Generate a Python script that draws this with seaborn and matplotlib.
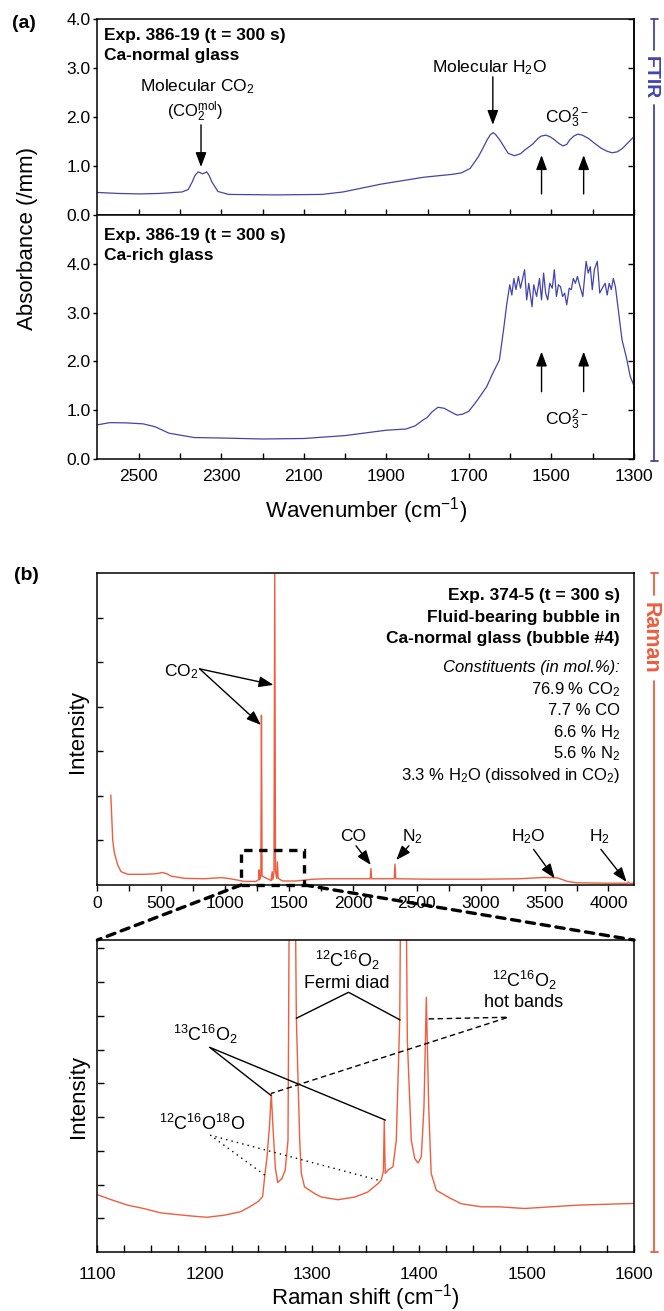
import matplotlib
matplotlib.use('Agg')
import matplotlib.pyplot as plt
import seaborn as sns
import pandas as pd
from matplotlib.lines import Line2D
from matplotlib.patches import Rectangle, ConnectionPatch
from matplotlib.ticker import MultipleLocator

# FTIR, exp. 386-19 (t = 300 s), Ca-normal glass
normal_wn = [2600, 2550, 2497, 2450, 2395, 2380, 2370, 2364, 2356, 2350,
             2346, 2340, 2335, 2329, 2323, 2308, 2282, 2169, 2056, 2005,
             1913, 1810, 1740, 1718, 1697, 1677, 1665, 1656, 1648, 1641,
             1635, 1625, 1605, 1590, 1575, 1564, 1545, 1533, 1525, 1513,
             1502, 1492, 1482, 1472, 1463, 1456, 1446, 1436, 1425, 1410,
             1395, 1379, 1365, 1353, 1340, 1328, 1315, 1300]
normal_abs = [0.46, 0.44, 0.43, 0.44, 0.47, 0.52, 0.68, 0.80, 0.88, 0.86,
              0.84, 0.86, 0.88, 0.80, 0.68, 0.48, 0.42, 0.41, 0.42, 0.47,
              0.63, 0.77, 0.83, 0.86, 0.95, 1.19, 1.38, 1.53, 1.64, 1.68,
              1.64, 1.53, 1.26, 1.21, 1.25, 1.33, 1.45, 1.56, 1.61, 1.63,
              1.59, 1.53, 1.46, 1.41, 1.44, 1.53, 1.61, 1.65, 1.63, 1.56,
              1.46, 1.36, 1.30, 1.27, 1.29, 1.36, 1.47, 1.60]

# FTIR, exp. 386-19 (t = 300 s), Ca-rich glass
rich_wn = [2600, 2570, 2530, 2489, 2460, 2427, 2400, 2366, 2300, 2200,
           2100, 2000, 1900, 1852, 1830, 1811, 1801, 1790, 1775, 1760,
           1745, 1729, 1715, 1700, 1680, 1657, 1642, 1626, 1616, 1608,
           1601, 1596, 1591, 1586, 1580, 1575, 1565, 1560, 1555, 1547,
           1543, 1536, 1529, 1524, 1519, 1514, 1509, 1504, 1498, 1493,
           1488, 1483, 1478, 1473, 1468, 1463, 1457, 1452, 1447, 1442,
           1437, 1432, 1424, 1416, 1411, 1406, 1401, 1396, 1389, 1383,
           1375, 1370, 1365, 1360, 1355, 1350, 1345, 1339, 1329, 1319,
           1309, 1301]
rich_abs = [0.70, 0.745, 0.74, 0.72, 0.66, 0.53, 0.49, 0.44, 0.43, 0.41,
            0.42, 0.48, 0.59, 0.615, 0.68, 0.80, 0.85, 0.96, 1.06, 1.04,
            0.97, 0.90, 0.92, 0.98, 1.20, 1.48, 1.76, 2.03, 2.65, 3.19,
            3.57, 3.36, 3.70, 3.47, 3.74, 3.50, 3.88, 3.26, 3.60, 3.12,
            3.57, 3.33, 3.70, 3.26, 3.81, 3.40, 3.26, 3.60, 3.50, 3.88,
            3.33, 3.57, 3.53, 3.33, 3.40, 3.16, 3.50, 3.47, 3.70, 3.60,
            3.74, 3.57, 3.33, 4.05, 3.81, 3.94, 3.47, 3.88, 4.05, 3.40,
            3.53, 3.60, 3.36, 3.60, 3.47, 3.70, 3.53, 3.12, 2.44, 2.10,
            1.69, 1.52]

# Raman, exp. 374-5, bubble #4 (full range)
raman_shift = [105, 120, 133, 159, 185, 237, 368, 440, 472, 511,
               545, 576, 680, 837, 940, 967, 1019, 1097, 1149, 1240,
               1262, 1266, 1270, 1279, 1284, 1289, 1360, 1368, 1374, 1382,
               1388, 1394, 1403, 1409, 1415, 1450, 1550, 1690, 1800, 2000,
               2135, 2141, 2147, 2323, 2329, 2335, 2600, 3000, 3300, 3500,
               3600, 3680, 3750, 4000, 4150, 4156, 4162, 4200]
raman_int = [2.02, 1.0, 0.72, 0.45, 0.30, 0.24, 0.24, 0.25, 0.26, 0.28,
             0.25, 0.20, 0.15, 0.14, 0.16, 0.165, 0.15, 0.11, 0.08, 0.08,
             0.12, 0.34, 0.12, 0.2, 3.81, 0.2, 0.1, 0.3, 0.12, 0.3,
             6.98, 0.3, 0.15, 0.52, 0.15, 0.09, 0.09, 0.13, 0.14, 0.14,
             0.14, 0.37, 0.14, 0.14, 0.47, 0.14, 0.13, 0.13, 0.14, 0.17,
             0.16, 0.08, 0.05, 0.04, 0.04, 0.07, 0.04, 0.04]

# Raman, zoom on the CO2 region
zoom_shift = [1100, 1112, 1128, 1143, 1159, 1174, 1190, 1202, 1218, 1233,
              1242, 1250, 1254, 1256, 1258, 1260.5, 1262, 1263.6, 1265.8, 1268,
              1272, 1275, 1277.6, 1278.6, 1281.3, 1284, 1285.4, 1288.5, 1290, 1293,
              1302.5, 1308.6, 1324, 1340, 1352, 1361.5, 1364.5, 1366.5, 1367.3, 1368.2,
              1370.8, 1375.4, 1378.5, 1381.7, 1382.3, 1385, 1388, 1388.8, 1392.5, 1395.7,
              1398.7, 1401.8, 1404.3, 1406.5, 1408.7, 1411, 1415.8, 1426.7, 1439, 1457.7,
              1474, 1498, 1548, 1600]
zoom_int = [1.70, 1.56, 1.39, 1.29, 1.16, 1.11, 1.06, 1.03, 1.09, 1.19,
            1.34, 1.50, 1.65, 2.28, 2.80, 3.80, 4.70, 3.70, 2.50, 2.06,
            2.18, 2.43, 3.31, 9.5, 55, 12, 6.9, 3.31, 2.33, 1.93,
            1.73, 1.63, 1.55, 1.63, 1.78, 2.03, 2.13, 2.40, 3.90, 2.33,
            2.43, 2.53, 3.31, 6.90, 9.5, 100, 9.5, 6.27, 3.31, 2.77,
            2.64, 2.82, 4.30, 7.55, 4.30, 2.33, 1.83, 1.63, 1.43, 1.34,
            1.34, 1.29, 1.39, 1.44]

ftir_xticks = [2500, 2400, 2300, 2200, 2100, 2000, 1900, 1800, 1700, 1600, 1500, 1400, 1300]
ftir_xlabels = ['2500', '', '2300', '', '2100', '', '1900', '', '1700', '', '1500', '', '1300']
ftir_yticks = [0, 1, 2, 3, 4]
ftir_ylabels = ['0.0', '1.0', '2.0', '3.0', '4.0']
raman_xticks = [0, 500, 1000, 1500, 2000, 2500, 3000, 3500, 4000]
raman_yticks = [1, 2, 3, 4, 5, 6]
zoom_xticks = [1100, 1200, 1300, 1400, 1500, 1600]
zoom_yticks = [1, 2, 3, 4, 5, 6, 7, 8, 9]
constituents = ['76.9 % CO$_2$', '7.7 % CO', '6.6 % H$_2$', '5.6 % N$_2$',
                '3.3 % H$_2$O (dissolved in CO$_2$)']

FTIR_C = '#4343ad'
RAMAN_C = '#ef5d3e'

sns.set_style('ticks', rc={'axes.edgecolor': 'black', 'text.color': 'black',
                           'xtick.color': 'black', 'ytick.color': 'black',
                           'axes.labelcolor': 'black'})
plt.rcParams['font.family'] = ['Liberation Sans', 'DejaVu Sans']
plt.rcParams['mathtext.fontset'] = 'custom'
plt.rcParams['mathtext.rm'] = 'Liberation Sans'
plt.rcParams['mathtext.it'] = 'Liberation Sans:italic'
plt.rcParams['mathtext.bf'] = 'Liberation Sans:bold'
plt.rcParams['axes.linewidth'] = 1.1
plt.rcParams['xtick.labelsize'] = 12.5
plt.rcParams['ytick.labelsize'] = 12.5

W, H = 664, 1311
fig = plt.figure(figsize=(W / 100, H / 100), dpi=100)


def axes_px(x0, y0, x1, y1):
    return fig.add_axes([x0 / W, 1 - y1 / H, (x1 - x0) / W, (y1 - y0) / H])


def ftext(x, y, s, **kw):
    fig.text(x / W, 1 - y / H, s, **kw)


def arrow(ax, tail, tip):
    ax.annotate('', xy=tip, xytext=tail,
                arrowprops=dict(arrowstyle='-|>,head_length=0.8,head_width=0.3',
                                color='black', lw=1, mutation_scale=11,
                                shrinkA=0, shrinkB=0))


ax_top = axes_px(97.4, 19, 634, 215)
ax_bot = axes_px(97.4, 215, 634, 459)
ax_ram = axes_px(97.4, 573, 634, 885)
ax_zm = axes_px(97.4, 940, 634, 1252)

# ---- FTIR panels ----
for ax, wn, ab, top in [(ax_top, normal_wn, normal_abs, 4), (ax_bot, rich_wn, rich_abs, 5)]:
    df = pd.DataFrame({'wn': wn, 'abs': ab})
    sns.lineplot(data=df, x='wn', y='abs', ax=ax, color=FTIR_C, linewidth=0.9,
                 estimator=None, sort=False)
    ax.set_xlim(2600, 1300)
    ax.set_ylim(0, top)
    ax.set_xticks(ftir_xticks)
    ax.set_yticks(ftir_yticks)
    ax.set_yticklabels(ftir_ylabels)
    ax.tick_params(axis='x', direction='in', length=4, width=1, pad=7)
    ax.tick_params(axis='y', direction='out', length=3, width=1, pad=2)
    right = ax.secondary_yaxis('right')
    right.set_yticks(ftir_yticks)
    right.tick_params(direction='in', length=4, width=1, labelright=False)
    ax.set_xlabel('')
    ax.set_ylabel('')
ax_top.set_xticklabels([])
ax_bot.set_xticklabels(ftir_xlabels)

for ax, y1, y2, s2 in [(ax_top, 0.918, 0.816, 'Ca-normal glass'),
                       (ax_bot, 0.918, 0.832, 'Ca-rich glass')]:
    ax.text(0.012, y1, 'Exp. 386-19 (t = 300 s)', transform=ax.transAxes,
            fontweight='bold', fontsize=12.5, va='center')
    ax.text(0.012, y2, s2, transform=ax.transAxes, fontweight='bold',
            fontsize=12.5, va='center')

ax_top.text(2359, 2.52, 'Molecular CO$_2$', ha='center', va='baseline', fontsize=12.5)
ax_top.text(2362, 2.0, '(CO$_2^{\\mathrm{mol}}$)', ha='center', va='baseline', fontsize=12)
arrow(ax_top, (2349, 1.84), (2349, 0.98))
ax_top.text(1651, 2.92, 'Molecular H$_2$O', ha='center', va='baseline', fontsize=12.5)
arrow(ax_top, (1642, 2.82), (1642, 1.84))
ax_top.text(1462, 1.87, 'CO$_3^{2-}$', ha='center', va='baseline', fontsize=12.5)
for wn in (1524, 1422):
    arrow(ax_top, (wn, 0.43), (wn, 1.22))
    arrow(ax_bot, (wn, 1.38), (wn, 2.2))
ax_bot.text(1462, 0.70, 'CO$_3^{2-}$', ha='center', va='baseline', fontsize=12.5)

ftext(28, 239, 'Absorbance (/mm)', rotation=90, ha='center', va='center', fontsize=16)
ftext(365.7, 511, 'Wavenumber (cm$^{-1}$)', ha='center', va='center', fontsize=16)
ftext(24, 23.5, '(a)', ha='center', va='center', fontsize=14, fontweight='bold')
ftext(26, 576, '(b)', ha='center', va='center', fontsize=14, fontweight='bold')

# ---- Raman, full range ----
df_r = pd.DataFrame({'shift': raman_shift, 'int': raman_int})
sns.lineplot(data=df_r, x='shift', y='int', ax=ax_ram, color=RAMAN_C, linewidth=1.0,
             estimator=None, sort=False)
ax_ram.set_xlim(0, 4200)
ax_ram.set_ylim(0, 7)
ax_ram.set_xticks(raman_xticks)
ax_ram.xaxis.set_minor_locator(MultipleLocator(250))
ax_ram.set_yticks(raman_yticks)
ax_ram.set_yticklabels([])
ax_ram.tick_params(axis='x', which='both', direction='out', length=4, width=1, pad=4)
ax_ram.tick_params(axis='y', direction='in', length=4, width=1)
ax_ram.set_xlabel('')
ax_ram.set_ylabel('')

info = [('Exp. 374-5 (t = 300 s)', 'bold', 'normal'),
        ('Fluid-bearing bubble in', 'bold', 'normal'),
        ('Ca-normal glass (bubble #4)', 'bold', 'normal'),
        ('Constituents (in mol.%):', 'normal', 'italic')] + \
       [(c, 'normal', 'normal') for c in constituents]
info_y = [0.913, 0.843, 0.776, 0.683, 0.612, 0.545, 0.474, 0.407, 0.337]
for (s, wt, st), y in zip(info, info_y):
    ax_ram.text(0.974, y, s, transform=ax_ram.transAxes, ha='right', va='baseline',
                fontsize=12.5 if wt == 'bold' else 12, fontweight=wt, fontstyle=st)

ax_ram.text(652, 4.69, 'CO$_2$', ha='center', va='baseline', fontsize=12.5)
arrow(ax_ram, (800, 4.85), (1280, 3.59))
arrow(ax_ram, (800, 4.85), (1378, 4.49))
for label, lx, tail, tip in [('CO', 2003, (2024, 0.88), (2140, 0.45)),
                             ('N$_2$', 2464, (2438, 0.88), (2339, 0.56)),
                             ('H$_2$O', 3370, (3414, 0.8), (3579, 0.15)),
                             ('H$_2$', 3933, (3941, 0.8), (4142, 0.07))]:
    ax_ram.text(lx, 0.99, label, ha='center', va='baseline', fontsize=12.5)
    arrow(ax_ram, tail, tip)

ftext(77.5, 731.7, 'Intensity', rotation=90, ha='center', va='center', fontsize=16)

# ---- Raman, zoom ----
df_z = pd.DataFrame({'shift': zoom_shift, 'int': zoom_int})
sns.lineplot(data=df_z, x='shift', y='int', ax=ax_zm, color=RAMAN_C, linewidth=1.0,
             estimator=None, sort=False)
ax_zm.set_xlim(1100, 1600)
ax_zm.set_ylim(0, 9.25)
ax_zm.set_xticks(zoom_xticks)
ax_zm.xaxis.set_minor_locator(MultipleLocator(25))
ax_zm.set_yticks(zoom_yticks)
ax_zm.set_yticklabels([])
ax_zm.tick_params(axis='x', which='both', direction='in', length=5, width=1, pad=11)
ax_zm.tick_params(axis='y', direction='in', length=5, width=1)
ax_zm.set_xlabel('')
ax_zm.set_ylabel('')

iso = '$^{12}$C$^{16}$O$_2$'
ax_zm.text(1332.6, 8.46, iso, ha='center', va='baseline', fontsize=13)
ax_zm.text(1332.6, 7.83, 'Fermi diad', ha='center', va='baseline', fontsize=13)
ax_zm.plot([1285.4, 1334, 1382.1], [6.93, 7.70, 6.88], color='black', lw=1)
ax_zm.text(1498.4, 7.87, iso, ha='center', va='baseline', fontsize=13)
ax_zm.text(1497.5, 7.26, 'hot bands', ha='center', va='baseline', fontsize=13)
ax_zm.plot([1408.6, 1482.8, 1261.8], [6.91, 6.96, 4.70], color='black', lw=1, ls=(0, (4, 2.5)))
ax_zm.text(1200.6, 6.27, '$^{13}$C$^{16}$O$_2$', ha='center', va='baseline', fontsize=13)
ax_zm.plot([1261.8, 1204.5, 1368.4], [4.64, 6.07, 3.91], color='black', lw=1)
ax_zm.text(1197.5, 3.61, '$^{12}$C$^{16}$O$^{18}$O', ha='center', va='baseline', fontsize=13)
ax_zm.plot([1255.9, 1205.4, 1361.6], [2.28, 3.46, 2.13], color='black', lw=1, ls=(0, (1, 3)))

ftext(78.3, 1096.7, 'Intensity', rotation=90, ha='center', va='center', fontsize=16)
ftext(365.7, 1298, 'Raman shift (cm$^{-1}$)', ha='center', va='center', fontsize=16)

# zoom box and connectors
box_lo, box_hi, box_top = 1124, 1620, 0.79
ax_ram.add_patch(Rectangle((box_lo, 0), box_hi - box_lo, box_top, fill=False,
                           ec='black', lw=2.4, ls=(0, (2.5, 2)), clip_on=False, zorder=5))
for xa, xb in [(box_lo, 1100), (box_hi, 1600)]:
    con = ConnectionPatch(xyA=(xa, 0), coordsA=ax_ram.transData,
                          xyB=(xb, 9.25), coordsB=ax_zm.transData,
                          color='black', lw=2.4, ls=(0, (2.5, 2)), zorder=5)
    fig.add_artist(con)


# side brackets
def bracket(x, y0, y1, g0, g1, color, label, fs):
    for a, b in [(y0, g0), (g1, y1)]:
        fig.add_artist(Line2D([x / W, x / W], [1 - a / H, 1 - b / H], color=color, lw=1.3))
    for y in (y0, y1):
        fig.add_artist(Line2D([(x - 3.5) / W, (x + 3.5) / W], [1 - y / H, 1 - y / H],
                              color=color, lw=1.3))
    ftext(x - 4, (g0 + g1) / 2, label, rotation=-90, ha='center', va='center',
          fontweight='bold', color=color, fontsize=fs)


bracket(654, 19, 461, 50, 105, FTIR_C, 'FTIR', 14)
bracket(654, 573, 1252, 595, 681, RAMAN_C, 'Raman', 15.5)

fig.savefig('out.png', dpi=100)
